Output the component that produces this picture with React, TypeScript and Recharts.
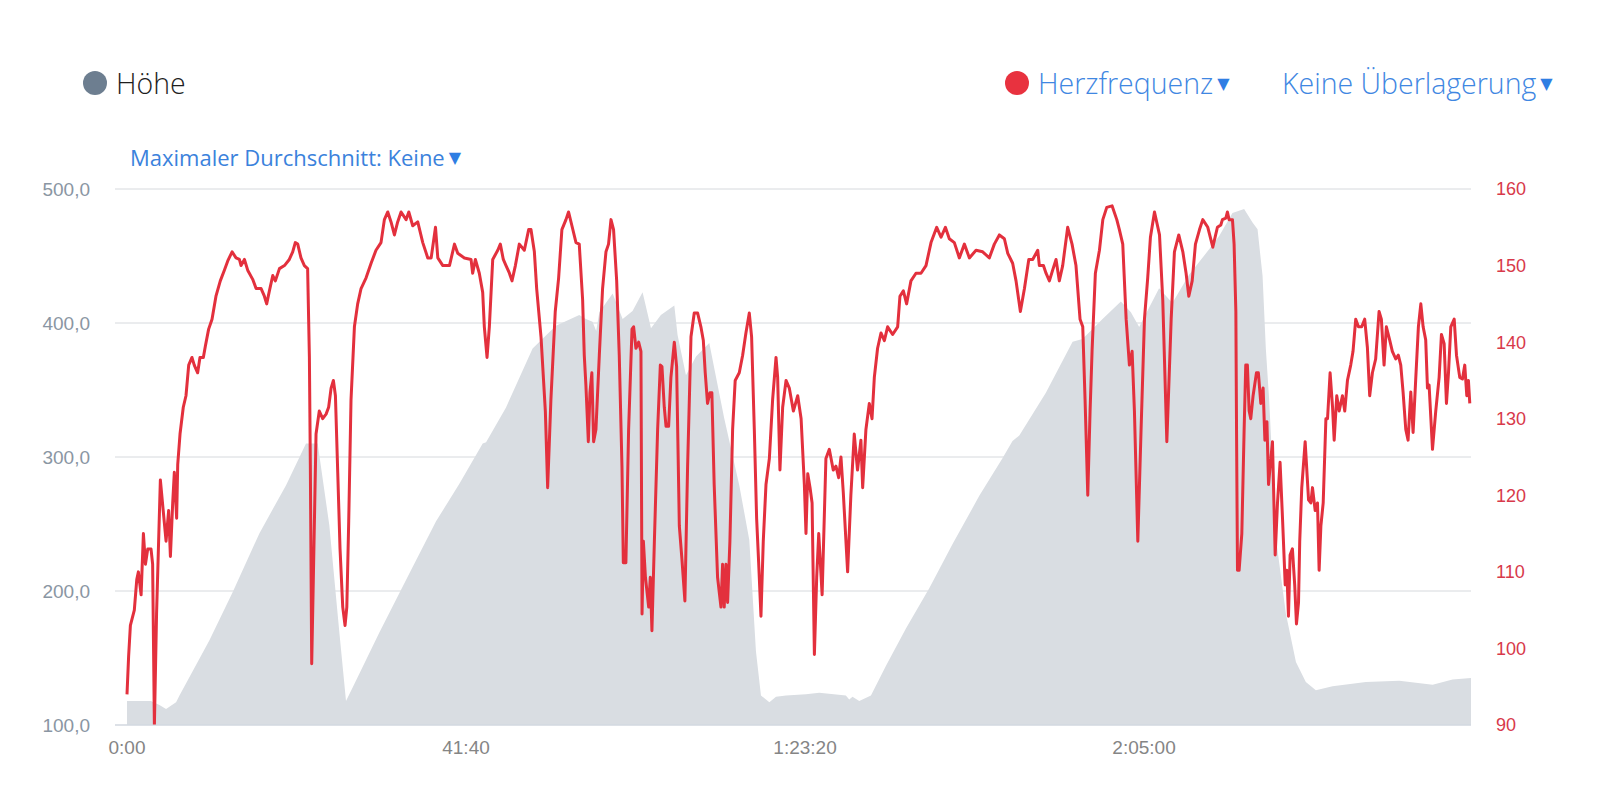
import React from "react";
import { ComposedChart, Area, Line, XAxis, YAxis, CartesianGrid } from "recharts";

// elevation profile (seconds, metres)
const elevTimes = [
  0, 177, 239, 288, 362, 387, 607, 779, 976, 1173, 1320, 1406, 1492, 1566, 1615, 1664, 1861, 2082,
  2279, 2451, 2623, 2648, 2795, 2991, 3163, 3335, 3384, 3433, 3460, 3483, 3581, 3655, 3728, 3802,
  3864, 3937, 4036, 4060, 4122, 4196, 4294, 4331, 4404, 4515, 4589, 4638, 4675, 4737, 4786, 4860,
  5007, 5105, 5301, 5326, 5350, 5400, 5486, 5596, 5744, 5916, 6088, 6285, 6456, 6530, 6580, 6776,
  6973, 7046, 7194, 7329, 7403, 7464, 7611, 7709, 7832, 7980, 8054, 8152, 8238, 8300, 8337, 8374,
  8398, 8423, 8472, 8546, 8620, 8693, 8767, 8890, 9136, 9382, 9628, 9775, 9911,
];
const elevValues = [
  118, 118, 115, 112, 117, 122, 163, 199, 243, 279, 310, 310, 249, 169, 118, 128, 169, 213,
  252, 280, 310, 311, 337, 381, 398, 406, 403, 401, 394, 408, 422, 403, 409, 423,
  396, 406, 413, 391, 361, 375, 385, 366, 329, 279, 238, 155, 122, 117, 121, 122,
  123, 124, 122, 119, 121, 118, 122, 144, 172, 202, 235, 271, 299, 312, 316, 348,
  386, 388, 403, 416, 408, 397, 426, 415, 436, 455, 465, 482, 485, 475, 470, 435,
  381, 342, 240, 183, 147, 132, 126, 129, 132, 133, 130, 134, 135,
];

// heart rate (seconds, bpm)
const hrTimes = [
  0, 12, 25, 54, 72, 84, 104, 121, 136, 153, 177, 189, 202, 218, 246, 288, 307, 320, 337, 349, 366,
  374, 391, 415, 435, 455, 479, 496, 521, 538, 563, 578, 602, 627, 656, 688, 718, 743, 775, 804,
  829, 841, 866, 890, 927, 952, 989, 1013, 1030, 1050, 1075, 1094, 1124, 1161, 1197, 1222, 1241,
  1259, 1283, 1308, 1332, 1345, 1352, 1362, 1374, 1394, 1418, 1443, 1468, 1487, 1505, 1522, 1537,
  1554, 1571, 1591, 1608, 1621, 1635, 1652, 1677, 1701, 1726, 1763, 1800, 1836, 1873, 1898, 1923,
  1947, 1972, 1996, 2021, 2058, 2078, 2107, 2144, 2181, 2218, 2243, 2275, 2292, 2329, 2378, 2415,
  2439, 2488, 2537, 2549, 2569, 2598, 2623, 2635, 2655, 2672, 2697, 2734, 2753, 2775, 2795, 2820,
  2839, 2864, 2893, 2930, 2962, 2979, 3004, 3021, 3053, 3085, 3102, 3126, 3158, 3183, 3207, 3237,
  3256, 3281, 3311, 3335, 3360, 3372, 3384, 3402, 3414, 3428, 3441, 3458, 3483, 3507, 3532, 3551,
  3569, 3588, 3611, 3630, 3650, 3660, 3679, 3699, 3724, 3736, 3753, 3773, 3790, 3798, 3808, 3823,
  3847, 3859, 3871, 3889, 3913, 3933, 3945, 3962, 3975, 3994, 4011, 4036, 4053, 4073, 4092, 4114,
  4134, 4159, 4183, 4208, 4232, 4250, 4264, 4281, 4299, 4313, 4330, 4355, 4380, 4392, 4404, 4417,
  4429, 4446, 4466, 4485, 4515, 4540, 4564, 4589, 4606, 4626, 4643, 4658, 4675, 4692, 4712, 4737,
  4761, 4786, 4798, 4815, 4835, 4860, 4884, 4914, 4946, 4971, 4995, 5007, 5020, 5037, 5052, 5069,
  5086, 5101, 5126, 5154, 5179, 5208, 5228, 5248, 5265, 5282, 5314, 5338, 5363, 5387, 5412, 5425,
  5449, 5474, 5494, 5511, 5535, 5560, 5585, 5609, 5646, 5683, 5700, 5725, 5749, 5781, 5818, 5855,
  5892, 5929, 5971, 6003, 6035, 6064, 6101, 6138, 6175, 6212, 6261, 6310, 6359, 6396, 6433, 6470,
  6495, 6531, 6556, 6588, 6618, 6650, 6679, 6716, 6728, 6758, 6777, 6802, 6826, 6851, 6875, 6900,
  6937, 6969, 6998, 7028, 7048, 7065, 7085, 7102, 7117, 7141, 7171, 7196, 7225, 7264, 7299, 7318,
  7343, 7368, 7392, 7412, 7429, 7454, 7478, 7503, 7527, 7547, 7577, 7614, 7638, 7668, 7700, 7724,
  7756, 7786, 7810, 7830, 7855, 7879, 7909, 7933, 7970, 8007, 8041, 8066, 8078, 8103, 8115, 8127,
  8152, 8164, 8177, 8182, 8189, 8201, 8221, 8238, 8250, 8262, 8275, 8287, 8304, 8329, 8343, 8361,
  8378, 8391, 8406, 8418, 8430, 8447, 8467, 8484, 8503, 8521, 8541, 8553, 8565, 8577, 8594, 8611,
  8624, 8639, 8648, 8663, 8688, 8713, 8730, 8742, 8762, 8779, 8791, 8804, 8821, 8841, 8853, 8872,
  8890, 8902, 8921, 8939, 8963, 8980, 9000, 9024, 9041, 9061, 9081, 9105, 9127, 9147, 9164, 9184,
  9208, 9233, 9250, 9270, 9287, 9311, 9331, 9356, 9375, 9393, 9410, 9430, 9447, 9467, 9484, 9504,
  9523, 9541, 9558, 9577, 9590, 9602, 9627, 9651, 9676, 9693, 9713, 9730, 9745, 9762, 9787, 9804,
  9828, 9848, 9865, 9880, 9892, 9902,
];
const hrValues = [
  94, 99, 103, 105, 109, 110, 107, 115, 111, 113, 113, 111, 90, 104.5, 122, 114, 118, 112, 119, 123, 117,
  124, 128, 131.5, 133, 137, 138, 137, 136, 138, 138, 139.5, 141.7, 143, 146, 148, 149.4, 150.6, 151.8, 151,
  150.8, 150, 150.8, 149.4, 148.2, 147, 147, 146, 145, 146.7, 148.7, 148, 149.6, 150, 150.8, 151.8, 153,
  152.8, 151, 150, 149.6, 138, 124, 98, 109, 128, 131, 130, 130.6, 131.5, 134, 135, 133,
  123, 113, 105.4, 103, 105.4, 116.6, 132.5, 142, 145, 147, 148.4, 150.3, 152, 153, 156, 157,
  155.7, 154, 155.7, 157, 156, 157, 155.2, 155.7, 153, 151, 151, 155, 151, 150, 150, 152.8,
  151.6, 151, 150.8, 149, 150.8, 149, 146.5, 142, 138, 142, 150.8, 152, 152.8, 150.8, 150, 149,
  148, 150, 152.8, 152, 154.7, 154.7, 151.8, 147, 140.7, 131, 121, 132.5, 144, 148.4, 154.7, 156,
  157, 155.2, 153, 152.8, 145.5, 138.3, 134.4, 127, 133.4, 136, 127, 128.6, 138.3, 147, 151.8, 152.8,
  156, 154.7, 148, 138.3, 123.8, 111.2, 111.2, 128.6, 141.7, 142, 139.2, 140, 138.8, 104.5, 114, 109.3,
  105.4, 109.3, 102.3, 114, 128.6, 137, 136.8, 131.5, 129, 129, 135.4, 140, 136.8, 116, 111.7, 106.2,
  123.8, 140.7, 143.8, 143.8, 142, 140.2, 136, 132, 133.4, 133.4, 121.4, 109.3, 105.4, 111, 105.4, 111,
  106, 114, 128.6, 135, 136, 138.3, 141.2, 143.8, 140.7, 128.6, 117, 111.2, 104.2, 114, 121.4, 124.8,
  132.5, 138, 135.4, 123.3, 131.5, 135, 134, 131, 133, 130, 121.4, 115, 122.8, 121, 119, 99.2,
  109.3, 115, 107, 124.8, 126, 123.3, 123.8, 122.3, 125, 120.4, 110, 120, 128, 123.3, 127.2, 121,
  128.6, 132, 130, 135.4, 139.2, 141.2, 140.2, 142, 141, 142, 146, 146.7, 145, 148, 149, 149,
  150, 153, 155, 153.7, 155, 153.5, 153, 151, 152.8, 151, 152, 151.8, 151, 152.8, 154, 153.5,
  151.6, 150.3, 148, 144, 147, 150.8, 150.8, 152, 150, 150, 149, 148, 149.4, 150.8, 148, 150,
  155, 152.8, 150, 143, 142, 132.5, 120, 131, 139, 149, 152, 156, 157.6, 157.8, 156, 154.7,
  152.8, 143, 137, 138.8, 131, 114, 128.6, 143, 148.4, 153.7, 157, 154, 145.5, 127, 143, 151.8,
  154, 151.8, 149, 146, 148, 152.8, 154.7, 156, 155, 152.4, 155, 155.3, 156, 156.2, 157, 156,
  156, 152.8, 144, 128.6, 110.2, 110.2, 115, 128.6, 137, 137, 131, 130, 133, 136, 136, 132,
  134, 127.2, 129.6, 121.4, 123.8, 127, 112.2, 119, 124.3, 117, 108.3, 110.2, 104.2, 112.2, 113, 108.3,
  103.2, 106, 114, 121, 127, 119.4, 119, 121, 118, 119, 110.2, 116, 119, 130, 130, 136,
  131.5, 127.2, 133, 131, 133, 131, 135, 137, 138.8, 143, 142, 142, 143, 139.3, 133, 136,
  137.8, 144, 143, 137, 142, 140.3, 138.8, 137.8, 138.3, 137, 133.5, 128.6, 127.2, 133.5, 128.2, 135.4,
  142, 145, 142, 140.3, 134, 134.4, 126, 131, 135.4, 141, 139.8, 132, 136, 142, 143, 138.3,
  135.4, 135.2, 137, 133, 135, 132,
];

const timeTicks = [0, 2500, 5000, 7500];
const elevTicks = [100, 200, 300, 400, 500];
const hrTicks = [90, 100, 110, 120, 130, 140, 150, 160];

type Row = { t: number; elev?: number; hr?: number };

const byTime = new Map<number, Row>();
elevTimes.forEach((t, i) => {
  const r = byTime.get(t) || { t };
  r.elev = elevValues[i];
  byTime.set(t, r);
});
hrTimes.forEach((t, i) => {
  const r = byTime.get(t) || { t };
  r.hr = hrValues[i];
  byTime.set(t, r);
});
const chartData = Array.from(byTime.values()).sort((a, b) => a.t - b.t);

const fmtTime = (s: number) => {
  const h = Math.floor(s / 3600);
  const m = Math.floor((s % 3600) / 60);
  const sec = Math.floor(s % 60);
  const ss = String(sec).padStart(2, "0");
  if (h > 0) return `${h}:${String(m).padStart(2, "0")}:${ss}`;
  return `${m}:${ss}`;
};

const fmtElev = (v: number) => v.toFixed(1).replace(".", ",");

const BLUE = "#3f87e2";
const RED = "#e3303d";
const TICK_FONT = "'Liberation Sans', Arial, sans-serif";

const headerText: React.CSSProperties = {
  position: "absolute",
  display: "flex",
  alignItems: "center",
  height: 40,
  fontFamily: "'Open Sans', sans-serif",
  whiteSpace: "nowrap",
};

const Caret = () => (
  <span style={{ fontFamily: "'DejaVu Sans', sans-serif", fontSize: 16, marginLeft: 4, color: "#2f7ee3" }}>▼</span>
);

export default function App() {
  return (
    <div style={{ position: "absolute", left: 0, top: 0, width: 1600, height: 788, background: "#fff" }}>
      <div style={{ ...headerText, left: 83, top: 63 }}>
        <span style={{ width: 24, height: 24, borderRadius: 12, background: "#6d7e90", display: "inline-block" }} />
        <span style={{ fontSize: 28.5, fontWeight: 300, color: "#1e1e1e", marginLeft: 9 }}>Höhe</span>
      </div>
      <div style={{ ...headerText, left: 1005, top: 63 }}>
        <span style={{ width: 24, height: 24, borderRadius: 12, background: "#e8323f", display: "inline-block" }} />
        <span style={{ fontSize: 28.5, fontWeight: 300, color: BLUE, marginLeft: 9 }}>Herzfrequenz</span>
        <Caret />
      </div>
      <div style={{ ...headerText, left: 1282, top: 63 }}>
        <span style={{ fontSize: 28.5, fontWeight: 300, color: BLUE }}>Keine Überlagerung</span>
        <Caret />
      </div>
      <div style={{ ...headerText, left: 130, top: 137 }}>
        <span style={{ fontSize: 22, color: "#3b82dc" }}>Maximaler Durchschnitt: Keine</span>
        <Caret />
      </div>

      <ComposedChart
        width={1600}
        height={788}
        data={chartData}
        margin={{ top: 189, right: 49, bottom: 33, left: 55 }}
      >
        <CartesianGrid yAxisId="left" vertical={false} stroke="#d6d9dd" />
        <XAxis
          dataKey="t"
          type="number"
          domain={[0, 9911]}
          ticks={timeTicks}
          tickFormatter={fmtTime}
          padding={{ left: 12, right: 0 }}
          height={30}
          axisLine={{ stroke: "#cfd6e0" }}
          tickLine={false}
          tickSize={0}
          tickMargin={16}
          tick={{ fill: "#858585", fontSize: 19, fontFamily: TICK_FONT }}
        />
        <YAxis
          yAxisId="left"
          orientation="left"
          domain={[100, 500]}
          ticks={elevTicks}
          tickFormatter={fmtElev}
          width={60}
          axisLine={false}
          tickLine={false}
          tickSize={0}
          tickMargin={25}
          tick={{ fill: "#8a96a3", fontSize: 19, fontFamily: TICK_FONT }}
        />
        <YAxis
          yAxisId="right"
          orientation="right"
          domain={[90, 160]}
          ticks={hrTicks}
          width={80}
          axisLine={false}
          tickLine={false}
          tickSize={0}
          tickMargin={25}
          allowDataOverflow
          tick={{ fill: "#d8394a", fontSize: 18, fontFamily: TICK_FONT }}
        />
        <Area
          yAxisId="left"
          dataKey="elev"
          type="linear"
          stroke="none"
          fill="#d9dde2"
          fillOpacity={1}
          connectNulls
          isAnimationActive={false}
          dot={false}
          activeDot={false}
        />
        <Line
          yAxisId="right"
          dataKey="hr"
          type="linear"
          stroke={RED}
          strokeWidth={3}
          strokeLinejoin="round"
          connectNulls
          dot={false}
          activeDot={false}
          isAnimationActive={false}
        />
      </ComposedChart>
    </div>
  );
}
